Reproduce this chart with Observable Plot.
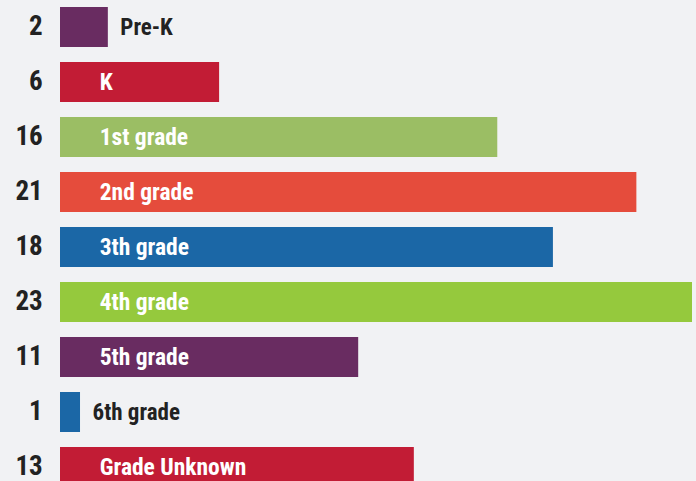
<!DOCTYPE html>
<html>
<head>
<meta charset="utf-8">
<script src="https://cdn.jsdelivr.net/npm/d3@7"></script>
<script src="https://cdn.jsdelivr.net/npm/@observablehq/plot@0.6"></script>
<style>
  html, body { margin: 0; padding: 0; background: #f1f2f4; overflow: hidden; }
  #chart svg { background: #f1f2f4; display: block; }
</style>
</head>
<body>
<div id="chart"></div>
<script>
const categories = ["Pre-K", "K", "1st grade", "2nd grade", "3th grade", "4th grade", "5th grade", "6th grade", "Grade Unknown"];
const counts = [2, 6, 16, 21, 18, 23, 11, 1, 13];
const palette = ["#692c61", "#c21c35", "#9bbe64", "#e54c3c", "#1b67a6", "#95c93d", "#692c61", "#1b67a6", "#c21c35"];

const data = categories.map((c, i) => ({ category: c, count: counts[i] }));
const insideThreshold = 5;
const font = "'Roboto Condensed', 'Liberation Sans Narrow', 'DejaVu Sans Condensed', 'Noto Sans', sans-serif";

const chart = Plot.plot({
  width: 696,
  height: 481,
  marginLeft: 52,
  marginRight: 4,
  marginTop: 0,
  marginBottom: 0,
  style: { background: "#f1f2f4", fontFamily: font, overflow: "hidden" },
  x: { domain: [0, 23], range: [52.2, 692], axis: null },
  y: { domain: categories, range: [5, 489], paddingInner: 0.28, paddingOuter: 0, axis: null },
  color: { domain: categories, range: palette },
  marks: [
    Plot.barX(data, { x: "count", y: "category", fill: "category", insetLeft: 7.8 }),
    Plot.text(data, {
      x: () => 0, y: "category", text: d => String(d.count),
      textAnchor: "end", dx: -10, dy: -1, fontSize: 27, fontWeight: "bold", fill: "#222"
    }),
    Plot.text(data.filter(d => d.count >= insideThreshold), {
      x: () => 0, y: "category", text: "category",
      textAnchor: "start", dx: 47, fontSize: 23.5, fontWeight: "bold", fill: "white"
    }),
    Plot.text(data.filter(d => d.count < insideThreshold), {
      x: "count", y: "category", text: "category",
      textAnchor: "start", dx: 12, fontSize: 23, fontWeight: "bold", fill: "#222"
    })
  ]
});
document.getElementById("chart").appendChild(chart);
</script>
</body>
</html>
